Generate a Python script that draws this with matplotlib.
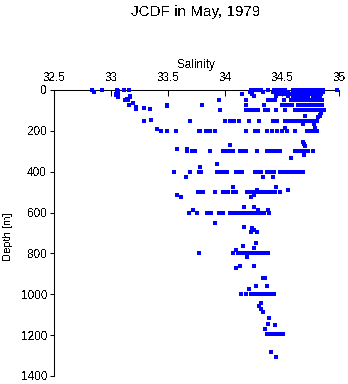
import numpy as np
import matplotlib
matplotlib.use("Agg")
import matplotlib.pyplot as plt

plt.rcParams['font.family'] = ['Liberation Sans', 'DejaVu Sans']
plt.rcParams['text.antialiased'] = False

# Bottle salinities at the standard sampling depths [m]
sal_0 = [32.83, 32.92, 33.05, 33.11, 33.16, 34.23, 34.25, 34.27, 34.29, 34.32,
         34.38, 34.43, 34.45, 34.47, 34.49, 34.51, 34.53, 34.60, 34.62, 34.64,
         34.66, 34.68, 34.70, 34.72, 34.73, 34.76, 34.78, 34.80, 34.82, 34.84,
         34.86, 34.98]
sal_10 = [32.85, 33.06, 34.22, 34.33, 34.42, 34.46, 34.50, 34.55, 34.60, 34.63,
          34.66, 34.69, 34.72, 34.77, 34.80, 34.83, 34.86]
sal_20 = [33.04, 34.15, 34.24, 34.48, 34.52, 34.58, 34.61, 34.64, 34.67, 34.70,
          34.75, 34.78, 34.81, 34.84]
sal_30 = [33.06, 33.17, 34.25, 34.45, 34.55, 34.60, 34.63, 34.66, 34.69, 34.73,
          34.77, 34.80, 34.83]
sal_50 = [33.12, 33.14, 33.15, 33.95, 34.18, 34.38, 34.41, 34.44, 34.52, 34.58,
          34.61, 34.64, 34.67, 34.70, 34.73, 34.76, 34.79, 34.82, 34.85]
sal_75 = [33.16, 33.49, 33.80, 34.18, 34.34, 34.50, 34.53, 34.56, 34.59, 34.64,
          34.67, 34.70, 34.73, 34.76, 34.79, 34.82, 34.85]
sal_100 = [33.96, 34.18, 34.20, 34.23, 34.26, 34.29, 34.35, 34.38, 34.45, 34.53,
           34.61, 34.64, 34.67, 34.70, 34.73, 34.75, 34.78, 34.81, 34.84, 34.87]
sal_125 = [34.70, 34.83]
sal_150 = [33.29, 33.69, 34.00, 34.04, 34.08, 34.12, 34.21, 34.30, 34.42, 34.46,
           34.53, 34.56, 34.60, 34.63, 34.66, 34.69, 34.72, 34.75, 34.78, 34.81]
sal_200 = [33.44, 33.49, 33.57, 33.77, 33.78, 33.83, 33.85, 33.87, 33.91, 34.18,
           34.26, 34.29, 34.37, 34.41, 34.46, 34.50, 34.54, 34.61, 34.72, 34.75,
           34.78, 34.81]
sal_300 = [33.67, 33.71, 33.74, 33.87, 33.98, 34.01, 34.04, 34.07, 34.13, 34.16,
           34.18, 34.28, 34.37, 34.40, 34.43, 34.46, 34.48, 34.61, 34.64, 34.67,
           34.70, 34.73, 34.77]
sal_400 = [33.55, 33.69, 33.77, 33.79, 33.93, 33.96, 33.99, 34.02, 34.10, 34.13,
           34.15, 34.26, 34.28, 34.30, 34.32, 34.37, 34.40, 34.43, 34.48, 34.50,
           34.53, 34.56, 34.59, 34.62, 34.65, 34.68]
sal_500 = [33.76, 33.79, 33.81, 33.91, 33.98, 34.00, 34.03, 34.07, 34.10, 34.19,
           34.21, 34.24, 34.27, 34.30, 34.32, 34.35, 34.38, 34.41, 34.44, 34.48]
sal_600 = [33.68, 33.75, 33.84, 33.88, 33.95, 33.98, 34.04, 34.07, 34.10, 34.12,
           34.14, 34.16, 34.18, 34.20, 34.22, 34.24, 34.26, 34.28, 34.30, 34.32,
           34.34, 34.39]
sal_800 = [34.07, 34.11, 34.13, 34.16, 34.19, 34.21, 34.23, 34.25, 34.27, 34.29,
           34.31, 34.33, 34.35, 34.37, 34.38]
sal_1000 = [34.14, 34.18, 34.23, 34.25, 34.28, 34.29, 34.31, 34.33, 34.35, 34.37,
            34.39, 34.41, 34.43]
sal_1196 = [34.37, 34.39, 34.41, 34.43, 34.45, 34.47, 34.49, 34.51]

# Samples taken between the standard levels
odd_depth = [5, 23, 33, 34, 44, 48, 62, 78, 82, 88, 94, 94, 115, 120, 130, 145,
             145, 153, 165, 165, 185, 185, 189, 202, 255, 265, 270, 275, 290, 290,
             320, 333, 362, 375, 424, 424, 424, 473, 473, 490, 490, 514, 514, 525,
             525, 571, 571, 585, 585, 585, 653, 669, 675, 685, 695, 695, 747, 765,
             775, 783, 796, 816, 860, 860, 873, 922, 922, 958, 958, 976, 1044,
             1057, 1074, 1088, 1118, 1145, 1150, 1172, 1281, 1308]
odd_sal = [33.06, 33.04, 33.06, 33.17, 33.14, 33.14, 33.19, 33.49, 33.22, 33.29,
           33.34, 33.22, 34.84, 34.83, 34.82, 33.35, 33.35, 33.69, 34.68, 34.78,
           34.53, 34.79, 33.40, 33.44, 34.68, 34.69, 34.04, 34.70, 33.58, 33.67,
           34.69, 34.58, 33.93, 33.78, 33.66, 34.33, 34.42, 34.07, 34.45, 34.28,
           34.55, 33.58, 34.25, 33.61, 34.23, 34.17, 34.25, 33.72, 34.29, 34.38,
           33.91, 34.17, 34.24, 34.25, 34.28, 34.23, 34.27, 34.16, 34.25, 34.10,
           33.77, 34.19, 34.25, 34.13, 34.10, 34.33, 34.35, 34.27, 34.37, 34.21,
           34.32, 34.30, 34.32, 34.33, 34.39, 34.38, 34.44, 34.35, 34.40, 34.45]

levels = [0, 10, 20, 30, 50, 75, 100, 125, 150, 200, 300, 400, 500, 600, 800,
          1000, 1196]
level_sal = [sal_0, sal_10, sal_20, sal_30, sal_50, sal_75, sal_100, sal_125,
             sal_150, sal_200, sal_300, sal_400, sal_500, sal_600, sal_800,
             sal_1000, sal_1196]

salinity = np.concatenate([np.array(s) for s in level_sal] + [np.array(odd_sal)])
depth = np.concatenate([np.full(len(s), d, dtype=float) for d, s in zip(levels, level_sal)]
                       + [np.array(odd_depth, dtype=float)])

fig = plt.figure(figsize=(3.48, 3.84), dpi=100)
ax = fig.add_axes([54 / 348, 1 - 376 / 384, 285 / 348, 286 / 384])

# surface bottles sit on the top axis line, so draw above it
ax.plot(salinity, depth, linestyle='none', marker='s', markersize=2.2,
        markeredgewidth=0, color='#0000ff', antialiased=False,
        clip_on=False, zorder=4)

ax.set_xlim(32.5, 35)
ax.set_ylim(1400, 0)
ax.set_xticks([32.5, 33, 33.5, 34, 34.5, 35])
ax.set_xticklabels(['32.5', '33', '33.5', '34', '34.5', '35'])
ax.set_yticks(np.arange(0, 1401, 200))

ax.xaxis.tick_top()
ax.xaxis.set_label_position('top')
ax.set_xlabel('Salinity', fontsize=8.5, labelpad=3)
ax.tick_params(axis='x', direction='in', length=4, width=0.75, labelsize=8.5, pad=4)
ax.tick_params(axis='y', direction='out', length=3, width=0.75, labelsize=8.5, pad=2)

for side in ['right', 'bottom']:
    ax.spines[side].set_visible(False)
for side in ['top', 'left']:
    ax.spines[side].set_linewidth(0.75)

fig.text(8 / 348, 1 - 237 / 384, 'Depth [m]', rotation=90, fontsize=8,
         ha='center', va='center')
fig.text(196 / 348, 1 - 12 / 384, 'JCDF in May, 1979', fontsize=11,
         ha='center', va='center')

fig.savefig('out.png', dpi=100)
